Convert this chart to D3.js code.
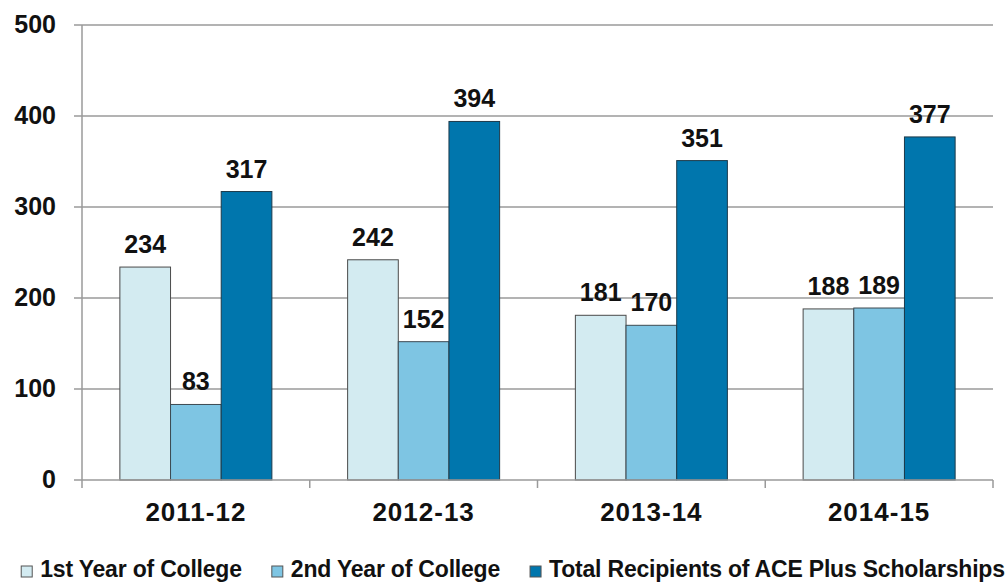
<!DOCTYPE html>
<html>
<head>
<meta charset="utf-8">
<script src="https://cdn.jsdelivr.net/npm/d3@7"></script>
<style>
  html, body { margin: 0; padding: 0; background: #fff; }
  svg { display: block; }
  text { font-family: "Liberation Sans", Arial, sans-serif; font-weight: bold; fill: #111; }
</style>
</head>
<body>
<svg id="chart" width="1005" height="584"></svg>
<script>
const categories = ["2011-12", "2012-13", "2013-14", "2014-15"];
const seriesNames = ["1st Year of College", "2nd Year of College", "Total Recipients of ACE Plus Scholarships"];
const firstYear = [234, 242, 181, 188];
const secondYear = [83, 152, 170, 189];
const totalRecipients = [317, 394, 351, 377];
const yTicks = [0, 100, 200, 300, 400, 500];
const colors = ["#d3ebf1", "#7ec5e3", "#0076ad"];
const strokes = ["#4a4a4a", "#3d4a52", "#1d3a4a"];

const seriesValues = [firstYear, secondYear, totalRecipients];

const svg = d3.select("#chart");
const plotLeft = 82, plotRight = 993, plotTop = 25, plotBottom = 480;

const x0 = d3.scaleBand().domain(categories).range([plotLeft, plotRight]).paddingInner(0.3326).paddingOuter(0.1663);
const x1 = d3.scaleBand().domain(d3.range(seriesNames.length)).range([0, x0.bandwidth()]).padding(0);
const y = d3.scaleLinear().domain([0, 500]).range([plotBottom, plotTop]);

// gridlines
svg.append("g").selectAll("line").data(yTicks.filter(d => d > 0)).join("line")
  .attr("x1", plotLeft - 8).attr("x2", plotRight)
  .attr("y1", d => y(d)).attr("y2", d => y(d))
  .attr("stroke", "#9a9a9a").attr("stroke-width", 1.5);

// y-axis line
svg.append("line").attr("x1", plotLeft).attr("x2", plotLeft).attr("y1", plotTop).attr("y2", plotBottom + 8)
  .attr("stroke", "#9a9a9a").attr("stroke-width", 1.5);

// bars
const groups = svg.append("g").selectAll("g").data(categories).join("g")
  .attr("transform", d => `translate(${x0(d)},0)`);

groups.selectAll("rect").data((c, i) => seriesValues.map((s, k) => ({k, v: s[i]}))).join("rect")
  .attr("x", d => x1(d.k))
  .attr("width", x1.bandwidth())
  .attr("y", d => y(d.v))
  .attr("height", d => y(0) - y(d.v))
  .attr("fill", d => colors[d.k])
  .attr("stroke", d => strokes[d.k])
  .attr("stroke-width", 1);

groups.selectAll("text").data((c, i) => seriesValues.map((s, k) => ({k, v: s[i]}))).join("text")
  .attr("x", d => x1(d.k) + x1.bandwidth() / 2)
  .attr("y", d => y(d.v) - 14)
  .attr("text-anchor", "middle")
  .style("font-size", "25px")
  .text(d => d.v);

// x-axis line and ticks
svg.append("line").attr("x1", plotLeft - 8).attr("x2", plotRight).attr("y1", plotBottom).attr("y2", plotBottom)
  .attr("stroke", "#9a9a9a").attr("stroke-width", 1.5);
const boundaries = categories.map(c => x0(c) - x0.step() * x0.paddingInner() / 2).slice(1).concat([plotRight]);
svg.append("g").selectAll("line").data(boundaries).join("line")
  .attr("x1", d => d).attr("x2", d => d).attr("y1", plotBottom).attr("y2", plotBottom + 8)
  .attr("stroke", "#9a9a9a").attr("stroke-width", 1.5);

// y tick labels
svg.append("g").selectAll("text").data(yTicks).join("text")
  .attr("x", 56).attr("y", d => y(d)).attr("dy", "0.33em")
  .attr("text-anchor", "end")
  .style("font-size", "25px")
  .text(d => d);

// x category labels
svg.append("g").selectAll("text").data(categories).join("text")
  .attr("x", d => x0(d) + x0.bandwidth() / 2).attr("y", 521)
  .attr("text-anchor", "middle")
  .style("font-size", "26px").style("letter-spacing", "1px")
  .text(d => d);

// legend
const legend = svg.append("g");
const items = legend.selectAll("g").data(seriesNames).join("g");
items.append("rect").attr("width", 11).attr("height", 11).attr("y", 566)
  .attr("fill", (d, i) => colors[i]).attr("stroke", "#555").attr("stroke-width", 1);
items.append("text").attr("x", 19).attr("y", 577)
  .style("font-size", "23px").style("letter-spacing", "-0.2px")
  .text(d => d);
let widths = [];
items.each(function () { widths.push(this.getBBox().width); });
const gap = 30;
const total = d3.sum(widths) + gap * (widths.length - 1);
let cx = 513 - total / 2;
items.attr("transform", (d, i) => { const t = `translate(${cx},0)`; cx += widths[i] + gap; return t; });
</script>
</body>
</html>
